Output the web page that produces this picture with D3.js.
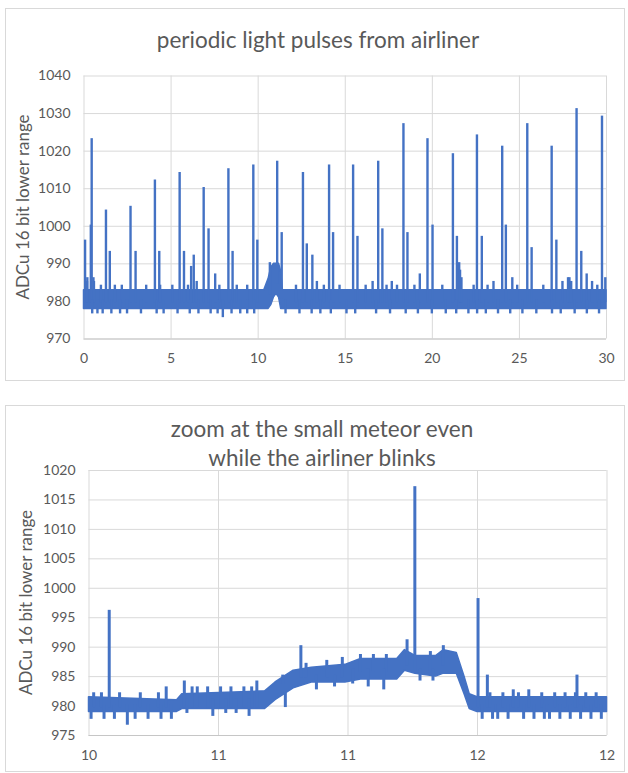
<!DOCTYPE html>
<html>
<head>
<meta charset="utf-8">
<script src="https://cdn.jsdelivr.net/npm/d3@7"></script>
<style>
body { margin: 0; background: #fff; }
text { font-family: Lato, "Open Sans", sans-serif; }
</style>
</head>
<body>
<div id="chart"></div>
<script>
// ---- top chart data (seconds, ADCu) ----
var topTitle = ["periodic light pulses from airliner"];
var topXTicks = [0, 5, 10, 15, 20, 25, 30];
var topYTicks = [970, 980, 990, 1000, 1010, 1020, 1030, 1040];
// noise band envelope
var topBandT  = [0, 10.35, 10.6, 10.75, 10.9, 11.05, 11.2, 11.32, 11.42, 30];
var topBandLo = [978, 978, 978, 979, 981, 982, 981, 978, 978, 978];
var topBandHi = [983, 983, 986, 989, 990, 990, 990, 988, 983, 983];
// spikes and small blips: [t, base, peak]
var topSpikes = [
  [0.09, 980, 996], [0.22, 980, 986], [0.42, 980, 1000], [0.47, 980, 1023], [0.57, 980, 986],
  [1.29, 980, 1004], [1.51, 980, 993], [2.70, 980, 1005], [2.99, 980, 993],
  [4.10, 980, 1012], [4.35, 980, 993], [5.52, 980, 1014], [5.77, 980, 993],
  [6.18, 980, 989], [6.33, 980, 992], [6.90, 980, 1010], [7.18, 980, 999], [7.56, 980, 987],
  [8.32, 980, 1015], [8.56, 980, 993], [9.75, 980, 1016], [9.98, 980, 996],
  [10.70, 982, 990], [11.12, 985, 1017], [11.38, 981, 998],
  [12.60, 980, 1014], [12.82, 980, 995], [13.14, 980, 992], [14.10, 980, 1016], [14.33, 980, 998],
  [15.48, 980, 1016], [15.73, 980, 997], [16.92, 980, 1017], [17.16, 980, 999], [17.70, 980, 985],
  [18.37, 980, 1027], [18.60, 980, 998], [19.31, 980, 987], [19.75, 980, 1023], [20.04, 980, 1000],
  [21.21, 980, 1019], [21.44, 980, 997], [21.57, 980, 990], [21.62, 980, 988], [21.70, 980, 986],
  [22.59, 980, 1024], [22.87, 980, 997], [23.54, 980, 985], [24.04, 980, 1021], [24.25, 980, 1000],
  [24.62, 980, 986], [25.48, 980, 1027], [25.73, 980, 994], [26.88, 980, 1021], [27.15, 980, 996],
  [27.82, 980, 986], [28.31, 980, 1031], [28.58, 980, 993], [28.89, 980, 987],
  [29.77, 980, 1029], [29.96, 980, 986],
  // small ups
  [0.20, 980, 985], [0.60, 980, 985], [1.00, 980, 984], [1.80, 980, 984], [2.20, 980, 984],
  [3.60, 980, 984], [4.40, 980, 984], [5.10, 980, 984], [6.00, 980, 984], [6.50, 980, 985],
  [7.80, 980, 984], [8.80, 980, 984], [9.40, 980, 984], [12.20, 980, 984], [13.40, 980, 985],
  [13.80, 980, 984], [14.70, 980, 984], [16.20, 980, 984], [16.60, 980, 985], [17.40, 980, 984],
  [18.00, 980, 984], [19.00, 980, 984], [20.60, 980, 984], [22.40, 980, 984], [23.20, 980, 984],
  [24.90, 980, 984], [26.40, 980, 984], [27.50, 980, 985], [27.90, 980, 986], [28.00, 980, 985],
  [29.20, 980, 985], [29.50, 980, 984],
  // small downs
  [0.50, 980, 977], [0.80, 980, 977], [1.10, 980, 977], [1.60, 980, 977], [2.10, 980, 977],
  [2.50, 980, 977], [3.30, 980, 977], [4.20, 980, 977], [4.60, 980, 977], [5.40, 980, 977],
  [6.10, 980, 977], [6.60, 980, 977], [7.30, 980, 977], [7.70, 980, 977], [8.00, 980, 976],
  [8.50, 980, 977], [9.00, 980, 977], [9.40, 980, 977], [9.80, 980, 977], [11.60, 980, 977],
  [12.40, 980, 977], [13.10, 980, 977], [13.60, 980, 977], [14.20, 980, 977], [15.10, 980, 977],
  [15.60, 980, 977], [16.80, 980, 977], [17.60, 980, 977], [18.50, 980, 977], [19.20, 980, 977],
  [20.00, 980, 977], [20.80, 980, 977], [21.40, 980, 977], [22.10, 980, 977], [22.60, 980, 977],
  [23.10, 980, 977], [23.80, 980, 977], [24.50, 980, 977], [25.20, 980, 977], [26.00, 980, 977],
  [26.90, 980, 977], [27.40, 980, 977], [28.20, 980, 977], [28.90, 980, 977], [29.60, 980, 977]
];

// ---- bottom chart data ----
var botTitle = ["zoom at the small meteor even", "while the airliner blinks"];
var botXTicks = [10, 10.5, 11, 11.5, 12];
var botXLabels = ["10", "11", "11", "12", "12"];
var botYTicks = [975, 980, 985, 990, 995, 1000, 1005, 1010, 1015, 1020];
var botBandT  = [10.00, 10.34, 10.36, 10.68, 10.72, 10.79, 10.86, 10.99, 11.05, 11.19, 11.22, 11.26, 11.34, 11.37, 11.42, 11.45, 11.47, 11.50, 12.00];
var botBandLo = [979, 979, 979.5, 979.5, 981, 983, 984, 984, 984.5, 984.5, 986, 985.5, 985, 985.5, 985.5, 982, 979.5, 979, 979];
var botBandHi = [981.5, 981, 982, 982.5, 984, 986, 986.5, 987, 988, 988, 989.5, 988.5, 988.5, 989.5, 989, 985, 982, 981.5, 981.5];
var botSpikes = [
  [10.08, 980, 996], [10.82, 985, 990], [11.26, 986, 1017], [11.504, 980, 998],
  [11.54, 980, 985], [11.886, 980, 985],
  // small ups
  [10.02, 980, 982], [10.05, 980, 982], [10.12, 980, 982], [10.20, 980, 982], [10.27, 980, 982],
  [10.30, 980, 983], [10.37, 980, 984], [10.40, 980, 983], [10.42, 980, 983], [10.46, 980, 983],
  [10.51, 980, 983], [10.55, 980, 983], [10.60, 980, 983], [10.63, 980, 983], [10.65, 980, 984],
  [10.75, 984, 985], [10.84, 985, 987], [10.92, 985, 987.5], [10.98, 985, 988], [11.05, 986, 988.5],
  [11.10, 986, 988.5], [11.15, 986, 988.5], [11.23, 987, 991], [11.32, 986, 989], [11.37, 987, 990],
  [11.55, 980, 982], [11.60, 980, 982], [11.64, 980, 982.5], [11.66, 980, 982], [11.70, 980, 982.5],
  [11.75, 980, 982], [11.80, 980, 982], [11.84, 980, 982], [11.88, 980, 982], [11.92, 980, 982],
  [11.96, 980, 982],
  // small downs
  [10.01, 980, 978], [10.06, 980, 978], [10.10, 980, 978], [10.15, 980, 977], [10.18, 980, 978],
  [10.23, 980, 978], [10.28, 980, 978], [10.32, 980, 978], [10.38, 981, 979], [10.48, 981, 978.5],
  [10.53, 981, 979], [10.57, 981, 979], [10.62, 981, 978.5], [10.76, 982, 980],
  [10.88, 985, 983], [10.95, 985, 983.5], [11.02, 986, 984], [11.08, 986, 983.5], [11.14, 986, 983],
  [11.28, 986, 984.5], [11.33, 986, 984.5],
  [11.52, 980, 978], [11.56, 980, 978], [11.58, 980, 978], [11.62, 980, 978], [11.68, 980, 978],
  [11.72, 980, 978], [11.76, 980, 978], [11.78, 980, 978], [11.82, 980, 978], [11.86, 980, 978],
  [11.90, 980, 978], [11.94, 980, 978], [11.98, 980, 978]
];

var yLabel = "ADCu 16 bit lower range";
var blue = "#4472C4";

var svg = d3.select("#chart")
    .append("svg")
    .attr("width", 628)
    .attr("height", 773);

function drawChart(cfg) {
    var g = svg.append("g");

    // chart frame
    g.append("rect")
        .attr("x", cfg.box[0] + 0.5)
        .attr("y", cfg.box[1] + 0.5)
        .attr("width", cfg.box[2])
        .attr("height", cfg.box[3])
        .attr("fill", "#fff")
        .attr("stroke", "#d9d9d9");

    var x = d3.scaleLinear().domain(cfg.xDomain).range([cfg.plot[0], cfg.plot[1]]);
    var y = d3.scaleLinear().domain(cfg.yDomain).range([cfg.plot[3], cfg.plot[2]]);
    var w = cfg.plot[1] - cfg.plot[0];
    var h = cfg.plot[3] - cfg.plot[2];

    // horizontal gridlines + y labels
    g.append("g")
        .attr("transform", "translate(" + cfg.plot[0] + ",0)")
        .call(d3.axisLeft(y).tickValues(cfg.yTicks).tickSize(-w).tickPadding(13).tickFormat(d3.format("d")));
    // vertical gridlines + x labels
    g.append("g")
        .attr("transform", "translate(0," + cfg.plot[3] + ")")
        .call(d3.axisBottom(x).tickValues(cfg.xTicks).tickSize(-h).tickPadding(15)
            .tickFormat(function(d, i) { return cfg.xLabels ? cfg.xLabels[i] : d; }));

    g.selectAll(".domain").remove();
    g.selectAll(".tick line").attr("stroke", "#d9d9d9").attr("stroke-width", 1);
    g.selectAll(".tick text")
        .attr("fill", "#595959")
        .style("font-size", "14px");
    // base line of the plot a bit darker
    g.append("line")
        .attr("x1", cfg.plot[0]).attr("x2", cfg.plot[1])
        .attr("y1", cfg.plot[3] + 0.5).attr("y2", cfg.plot[3] + 0.5)
        .attr("stroke", "#c6c6c6");

    // noise band
    var area = d3.area()
        .x(function(d) { return x(d.t); })
        .y0(function(d) { return y(d.lo); })
        .y1(function(d) { return y(d.hi); });
    var band = cfg.bandT.map(function(t, i) { return { t: t, lo: cfg.bandLo[i], hi: cfg.bandHi[i] }; });
    g.append("path")
        .datum(band)
        .attr("d", area)
        .attr("fill", blue)
        .attr("stroke", blue)
        .attr("stroke-width", 1.5)
        .attr("stroke-linejoin", "round");

    // spikes
    g.selectAll(".spike")
        .data(cfg.spikes)
        .enter().append("line")
        .attr("class", "spike")
        .attr("x1", function(d) { return x(d[0]); })
        .attr("x2", function(d) { return x(d[0]); })
        .attr("y1", function(d) { return y(d[1]); })
        .attr("y2", function(d) { return y(d[2]); })
        .attr("stroke", blue)
        .attr("stroke-width", cfg.spikeWidth)
        .attr("stroke-linecap", "square");

    // title
    g.selectAll(".title")
        .data(cfg.title)
        .enter().append("text")
        .attr("x", cfg.titleX)
        .attr("y", function(d, i) { return cfg.titleY + i * 29; })
        .attr("text-anchor", "middle")
        .attr("fill", "#595959")
        .style("font-size", "22.5px")
        .text(function(d) { return d; });

    // y axis title
    g.append("text")
        .attr("transform", "translate(" + cfg.yLabelX + "," + ((cfg.plot[2] + cfg.plot[3]) / 2) + ") rotate(-90)")
        .attr("text-anchor", "middle")
        .attr("fill", "#595959")
        .style("font-size", "17px")
        .text(yLabel);
}

drawChart({
    box: [5, 8, 619, 372],
    plot: [83.5, 606, 75.5, 338.5],
    xDomain: [0, 30], yDomain: [970, 1040],
    xTicks: topXTicks, yTicks: topYTicks,
    bandT: topBandT, bandLo: topBandLo, bandHi: topBandHi,
    spikes: topSpikes, spikeWidth: 2.4,
    title: topTitle, titleX: 318, titleY: 48,
    yLabelX: 29
});

drawChart({
    box: [5, 405, 619, 366],
    plot: [88.5, 606.5, 470, 735],
    xDomain: [10, 12], yDomain: [975, 1020],
    xTicks: botXTicks, xLabels: botXLabels, yTicks: botYTicks,
    bandT: botBandT, bandLo: botBandLo, bandHi: botBandHi,
    spikes: botSpikes, spikeWidth: 3,
    title: botTitle, titleX: 322, titleY: 437,
    yLabelX: 32
});
</script>
</body>
</html>
